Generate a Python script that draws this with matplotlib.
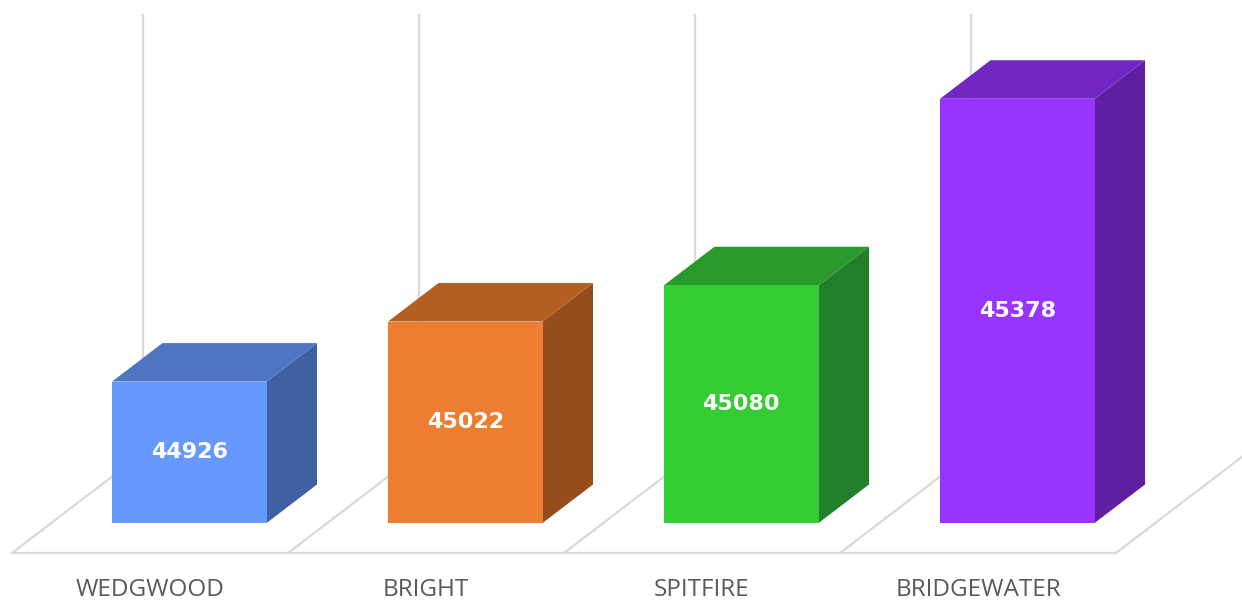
import matplotlib
matplotlib.use("Agg")
import matplotlib.pyplot as plt
from matplotlib.patches import Polygon

# ---- data ----
categories = ["WEDGWOOD", "BRIGHT", "SPITFIRE", "BRIDGEWATER"]
values = [44926, 45022, 45080, 45378]
axis_min, axis_max = 44700, 45400

front_colors = ["#6699FF", "#ED7D31", "#33CC33", "#9933FF"]
top_colors = ["#4D75C2", "#B35E22", "#28992A", "#7327C2"]
side_colors = ["#3F61A2", "#974C1D", "#22802A", "#601FA0"]

# ---- layout (pixels) ----
W, H = 1242, 600
cat_px = 276.0          # width of one category at the front
x_left_px = 12.0        # left edge of floor front
floor_front_px = 553.0  # y (from top) of floor front edge
wall_top_px = 15.0
depth_dx_px, depth_dy_px = 131.0, 100.0

k = (floor_front_px - wall_top_px - depth_dy_px) / (axis_max - axis_min)  # px per unit
DX = depth_dx_px / cat_px
DV = depth_dy_px / k


def proj(x, v, d):
    return (x + d * DX, v + d * DV)


fig = plt.figure(figsize=(W / 100, H / 100), dpi=100)
ax = fig.add_axes([0, 0, 1, 1])
ax.set_xlim(-x_left_px / cat_px, (W - x_left_px) / cat_px)
ax.set_ylim(axis_min - (H - floor_front_px) / k, axis_min + floor_front_px / k)
ax.axis("off")

grid_c = "#D9D9D9"
n = len(categories)
# floor front edge
p0, p1 = proj(0, axis_min, 0), proj(n, axis_min, 0)
ax.plot([p0[0], p1[0]], [p0[1], p1[1]], color=grid_c, lw=1.6, zorder=1, solid_capstyle="butt")
for i in range(n + 1):
    a, b = proj(i, axis_min, 0), proj(i, axis_min, 1)
    ax.plot([a[0], b[0]], [a[1], b[1]], color=grid_c, lw=1.6, zorder=1)
    c, d = proj(i, axis_min, 1), proj(i, axis_max, 1)
    ax.plot([c[0], d[0]], [c[1], d[1]], color=grid_c, lw=1.6, zorder=1)

bar_w = 0.56
d0, d1 = 0.30, 0.685
for i, v in enumerate(values):
    x0 = i + 0.5 - bar_w / 2
    x1 = i + 0.5 + bar_w / 2
    front = [proj(x0, axis_min, d0), proj(x1, axis_min, d0), proj(x1, v, d0), proj(x0, v, d0)]
    top = [proj(x0, v, d0), proj(x1, v, d0), proj(x1, v, d1), proj(x0, v, d1)]
    side = [proj(x1, axis_min, d0), proj(x1, axis_min, d1), proj(x1, v, d1), proj(x1, v, d0)]
    ax.add_patch(Polygon(side, closed=True, facecolor=side_colors[i], edgecolor="none", zorder=3))
    ax.add_patch(Polygon(top, closed=True, facecolor=top_colors[i], edgecolor="none", zorder=3))
    ax.add_patch(Polygon(front, closed=True, facecolor=front_colors[i], edgecolor="none", zorder=4))
    cx, cy = proj(i + 0.5, (axis_min + v) / 2, d0)
    ax.text(cx, cy, str(v), color="white", fontsize=16, fontweight="bold",
            family="DejaVu Sans", ha="center", va="center", zorder=5)
    lx, ly = proj(i + 0.5, axis_min - 37 / k, 0)
    ax.text(lx, ly, categories[i], color="#595959", fontsize=17.5, family="Open Sans",
            ha="center", va="center", zorder=5)

fig.savefig("out.png", dpi=100)
